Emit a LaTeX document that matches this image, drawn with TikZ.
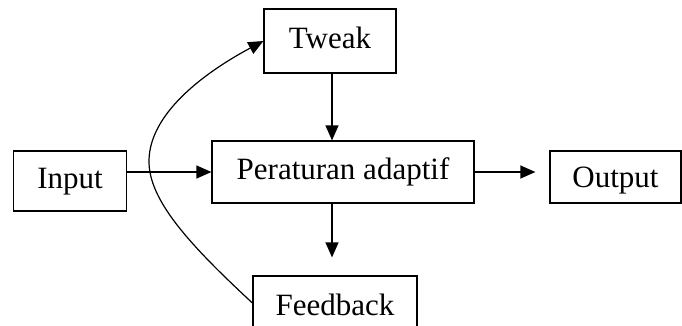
\documentclass[tikz,border=0pt]{standalone}
\usepackage{fontspec}
\setmainfont{Liberation Serif}
\usetikzlibrary{arrows.meta}
\begin{document}
\begin{tikzpicture}[x=1pt,y=-1pt,
  blk/.style={draw=black,line width=1.2pt,inner sep=0pt,text height=20pt,text depth=6pt,font=\fontsize{31}{37}\selectfont},
  conn/.style={line width=1.2pt,-{Triangle[length=15pt,width=13pt]}}]
\clip (0,0) rectangle (682,325);
\node[blk,minimum width=132pt,minimum height=64pt] (tweak) at (330,41) {Tweak};
\node[blk,minimum width=262pt,minimum height=62pt] (rule) at (343,172) {Peraturan adaptif};
\node[blk,minimum width=113pt,minimum height=60pt] (input) at (70,181) {Input};
\node[blk,minimum width=131pt,minimum height=52pt,text depth=0pt] (output) at (615.5,177) {Output};
\node[blk,minimum width=164pt,minimum height=64pt] (feedback) at (335,308) {Feedback};
\coordinate (bend) at (149,160);
\draw[conn] ([xshift=2pt]tweak.south) -- ([xshift=2pt]tweak.south |- rule.north);
\draw[conn] (input.east |- rule.west) -- (rule.west);
\draw[conn,shorten >=14pt] (rule.east) -- (rule.east -| output.west);
\draw[conn,shorten >=18pt] ([xshift=2pt]tweak.south |- rule.south) -- ([xshift=2pt]tweak.south |- feedback.north);
\draw[conn] ([yshift=5pt]feedback.west) .. controls (190,245) and (148,200) .. (bend)
  .. controls (150,115) and (200,75) .. (tweak.west);
\end{tikzpicture}
\end{document}
